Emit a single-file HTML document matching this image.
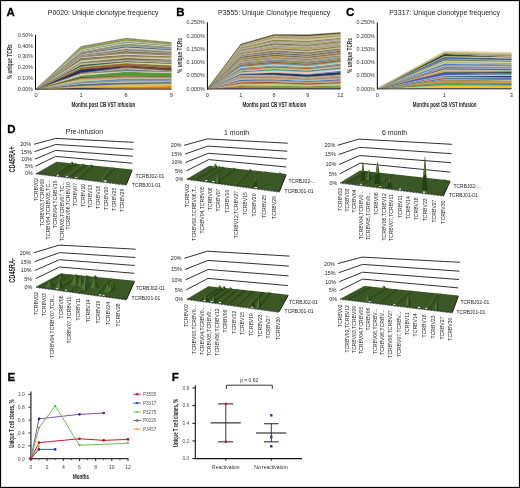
<!DOCTYPE html><html><head><meta charset="utf-8"><style>html,body{margin:0;padding:0;background:#fff;overflow:hidden}svg{display:block;will-change:transform}</style></head><body>
<svg width="520" height="488" viewBox="0 0 520 488" font-family="'Liberation Sans', sans-serif">
<defs><filter id="bl" x="-5%" y="-5%" width="110%" height="110%"><feGaussianBlur stdDeviation="0.3"/></filter></defs>
<rect x="0" y="0" width="520" height="488" fill="#fff"/>
<text x="6.6" y="16.4" font-size="11.5" text-anchor="start" font-weight="bold" fill="#000" stroke="#000" stroke-width="0.3">A</text>
<text x="176.3" y="16.3" font-size="11.5" text-anchor="start" font-weight="bold" fill="#000" stroke="#000" stroke-width="0.3">B</text>
<text x="346" y="16.3" font-size="11.5" text-anchor="start" font-weight="bold" fill="#000" stroke="#000" stroke-width="0.3">C</text>
<text x="7.2" y="132.8" font-size="11.5" text-anchor="start" font-weight="bold" fill="#000" stroke="#000" stroke-width="0.3">D</text>
<text x="7.6" y="380.5" font-size="11.5" text-anchor="start" font-weight="bold" fill="#000" stroke="#000" stroke-width="0.3">E</text>
<text x="171.8" y="380.5" font-size="11.5" text-anchor="start" font-weight="bold" fill="#000" stroke="#000" stroke-width="0.3">F</text>
<text transform="translate(47.8,14.9) scale(0.92,1)" font-size="7.6" text-anchor="start" fill="#222">P0020: Unique clonotype frequency</text>
<text transform="translate(218,14.9) scale(0.92,1)" font-size="7.6" text-anchor="start" fill="#222">P3555: Unique Clonotype frequency</text>
<text transform="translate(389.2,14.9) scale(0.92,1)" font-size="7.6" text-anchor="start" fill="#222">P3317: Unique clonotype frequency</text>
<g filter="url(#bl)">
<polygon points="36,89 81,87.75 126,88.62 171.3,88.66 171.3,89 126,89 81,89 36,89" fill="#40403d" stroke="#40403d" stroke-width="0.3"/>
<polygon points="36,89 81,87.27 126,87.1 171.3,86 171.3,88.66 126,88.62 81,87.75 36,89" fill="#e07923" stroke="#e07923" stroke-width="0.3"/>
<polygon points="36,89 81,86.5 126,85.17 171.3,84.29 171.3,86 126,87.1 81,87.27 36,89" fill="#e8bc25" stroke="#e8bc25" stroke-width="0.3"/>
<polygon points="36,89 81,85.89 126,84.24 171.3,83.58 171.3,84.29 126,85.17 81,86.5 36,89" fill="#c3bc9b" stroke="#c3bc9b" stroke-width="0.3"/>
<polygon points="36,89 81,83.78 126,82.3 171.3,81.94 171.3,83.58 126,84.24 81,85.89 36,89" fill="#5e6d78" stroke="#5e6d78" stroke-width="0.3"/>
<polygon points="36,89 81,83.14 126,81.32 171.3,81.25 171.3,81.94 126,82.3 81,83.78 36,89" fill="#d2caaa" stroke="#d2caaa" stroke-width="0.3"/>
<polygon points="36,89 81,82.34 126,80.43 171.3,80.41 171.3,81.25 126,81.32 81,83.14 36,89" fill="#8a8a87" stroke="#8a8a87" stroke-width="0.3"/>
<polygon points="36,89 81,81.53 126,78.61 171.3,78.73 171.3,80.41 126,80.43 81,82.34 36,89" fill="#5e8ab8" stroke="#5e8ab8" stroke-width="0.3"/>
<polygon points="36,89 81,79.52 126,77.7 171.3,77.91 171.3,78.73 126,78.61 81,81.53 36,89" fill="#b4ca94" stroke="#b4ca94" stroke-width="0.3"/>
<polygon points="36,89 81,77.9 126,75.8 171.3,76.66 171.3,77.91 126,77.7 81,79.52 36,89" fill="#ca8151" stroke="#ca8151" stroke-width="0.3"/>
<polygon points="36,89 81,77.07 126,75.53 171.3,76.4 171.3,76.66 126,75.8 81,77.9 36,89" fill="#40403d" stroke="#40403d" stroke-width="0.3"/>
<polygon points="36,89 81,75.42 126,71.63 171.3,72.98 171.3,76.4 126,75.53 81,77.07 36,89" fill="#4f9934" stroke="#4f9934" stroke-width="0.3"/>
<polygon points="36,89 81,73.78 126,70.9 171.3,72.11 171.3,72.98 126,71.63 81,75.42 36,89" fill="#d9d2b1" stroke="#d9d2b1" stroke-width="0.3"/>
<polygon points="36,89 81,73.36 126,69.03 171.3,71.24 171.3,72.11 126,70.9 81,73.78 36,89" fill="#6d7b87" stroke="#6d7b87" stroke-width="0.3"/>
<polygon points="36,89 81,73.13 126,68.07 171.3,70.81 171.3,71.24 126,69.03 81,73.36 36,89" fill="#bcbcaa" stroke="#bcbcaa" stroke-width="0.3"/>
<polygon points="36,89 81,72.72 126,67.12 171.3,70.37 171.3,70.81 126,68.07 81,73.13 36,89" fill="#ad6d34" stroke="#ad6d34" stroke-width="0.3"/>
<polygon points="36,89 81,69.52 126,66.18 171.3,69.66 171.3,70.37 126,67.12 81,72.72 36,89" fill="#23325a" stroke="#23325a" stroke-width="0.3"/>
<polygon points="36,89 81,69.12 126,65.44 171.3,68.02 171.3,69.66 126,66.18 81,69.52 36,89" fill="#5e3725" stroke="#5e3725" stroke-width="0.3"/>
<polygon points="36,89 81,67.48 126,63.48 171.3,67.15 171.3,68.02 126,65.44 81,69.12 36,89" fill="#9e632e" stroke="#9e632e" stroke-width="0.3"/>
<polygon points="36,89 81,67.09 126,63.01 171.3,65.34 171.3,67.15 126,63.48 81,67.48 36,89" fill="#7b6d34" stroke="#7b6d34" stroke-width="0.3"/>
<polygon points="36,89 81,66.44 126,62.04 171.3,63.66 171.3,65.34 126,63.01 81,67.09 36,89" fill="#e0d99b" stroke="#e0d99b" stroke-width="0.3"/>
<polygon points="36,89 81,64.75 126,61.1 171.3,62.97 171.3,63.66 126,62.04 81,66.44 36,89" fill="#325e4c" stroke="#325e4c" stroke-width="0.3"/>
<polygon points="36,89 81,63.13 126,60.12 171.3,62.15 171.3,62.97 126,61.1 81,64.75 36,89" fill="#cabc8c" stroke="#cabc8c" stroke-width="0.3"/>
<polygon points="36,89 81,62.89 126,59.64 171.3,60.38 171.3,62.15 126,60.12 81,63.13 36,89" fill="#8a8a87" stroke="#8a8a87" stroke-width="0.3"/>
<polygon points="36,89 81,62.08 126,57.76 171.3,59.53 171.3,60.38 126,59.64 81,62.89 36,89" fill="#7b6d5a" stroke="#7b6d5a" stroke-width="0.3"/>
<polygon points="36,89 81,60.41 126,56.82 171.3,57.85 171.3,59.53 126,57.76 81,62.08 36,89" fill="#c3d2aa" stroke="#c3d2aa" stroke-width="0.3"/>
<polygon points="36,89 81,58.8 126,54.98 171.3,56.58 171.3,57.85 126,56.82 81,60.41 36,89" fill="#998a51" stroke="#998a51" stroke-width="0.3"/>
<polygon points="36,89 81,57.98 126,54.69 171.3,56.32 171.3,56.58 126,54.98 81,58.8 36,89" fill="#4f3725" stroke="#4f3725" stroke-width="0.3"/>
<polygon points="36,89 81,57.2 126,53.79 171.3,55.45 171.3,56.32 126,54.69 81,57.98 36,89" fill="#e8e0c7" stroke="#e8e0c7" stroke-width="0.3"/>
<polygon points="36,89 81,56.78 126,52.83 171.3,54.56 171.3,55.45 126,53.79 81,57.2 36,89" fill="#8a8a87" stroke="#8a8a87" stroke-width="0.3"/>
<polygon points="36,89 81,55.95 126,50.93 171.3,53.32 171.3,54.56 126,52.83 81,56.78 36,89" fill="#8a7243" stroke="#8a7243" stroke-width="0.3"/>
<polygon points="36,89 81,55.56 126,49.97 171.3,52.48 171.3,53.32 126,50.93 81,55.95 36,89" fill="#90adc7" stroke="#90adc7" stroke-width="0.3"/>
<polygon points="36,89 81,55.16 126,49.05 171.3,51.65 171.3,52.48 126,49.97 81,55.56 36,89" fill="#7b6d5a" stroke="#7b6d5a" stroke-width="0.3"/>
<polygon points="36,89 81,54.35 126,48.15 171.3,50.81 171.3,51.65 126,49.05 81,55.16 36,89" fill="#bc9e6f" stroke="#bc9e6f" stroke-width="0.3"/>
<polygon points="36,89 81,53.95 126,47.23 171.3,50.12 171.3,50.81 126,48.15 81,54.35 36,89" fill="#d2d2ce" stroke="#d2d2ce" stroke-width="0.3"/>
<polygon points="36,89 81,53.55 126,46.3 171.3,49.28 171.3,50.12 126,47.23 81,53.95 36,89" fill="#404f5a" stroke="#404f5a" stroke-width="0.3"/>
<polygon points="36,89 81,53.13 126,45.37 171.3,48.45 171.3,49.28 126,46.3 81,53.55 36,89" fill="#8aadc7" stroke="#8aadc7" stroke-width="0.3"/>
<polygon points="36,89 81,52.3 126,44.48 171.3,47.63 171.3,48.45 126,45.37 81,53.13 36,89" fill="#9e8151" stroke="#9e8151" stroke-width="0.3"/>
<polygon points="36,89 81,51.47 126,43.58 171.3,46.74 171.3,47.63 126,44.48 81,52.3 36,89" fill="#7b8a69" stroke="#7b8a69" stroke-width="0.3"/>
<polygon points="36,89 81,50.66 126,42.67 171.3,46.02 171.3,46.74 126,43.58 81,51.47 36,89" fill="#e0d9c0" stroke="#e0d9c0" stroke-width="0.3"/>
<polygon points="36,89 81,50.26 126,41.76 171.3,45.15 171.3,46.02 126,42.67 81,50.66 36,89" fill="#5e8a87" stroke="#5e8a87" stroke-width="0.3"/>
<polygon points="36,89 81,49.45 126,40.84 171.3,44.45 171.3,45.15 126,41.76 81,50.26 36,89" fill="#d2caa2" stroke="#d2caa2" stroke-width="0.3"/>
<polygon points="36,89 81,47.87 126,39.37 171.3,43.55 171.3,44.45 126,40.84 81,49.45 36,89" fill="#8a9951" stroke="#8a9951" stroke-width="0.3"/>
<polygon points="36,89 81,46.2 126,38 171.3,42.2 171.3,43.55 126,39.37 81,47.87 36,89" fill="#8a8a60" stroke="#8a8a60" stroke-width="0.3"/>
</g>
<line x1="35.5" y1="34.8" x2="35.5" y2="89.5" stroke="#000" stroke-width="1"/>
<line x1="35" y1="89.2" x2="171.6" y2="89.2" stroke="#222" stroke-width="0.8"/>
<text x="33" y="36.7" font-size="5.4" text-anchor="end" fill="#333">0.50%</text>
<text x="33" y="47.53" font-size="5.4" text-anchor="end" fill="#333">0.40%</text>
<text x="33" y="58.36" font-size="5.4" text-anchor="end" fill="#333">0.30%</text>
<text x="33" y="69.19" font-size="5.4" text-anchor="end" fill="#333">0.20%</text>
<text x="33" y="80.02" font-size="5.4" text-anchor="end" fill="#333">0.10%</text>
<text x="33" y="90.85" font-size="5.4" text-anchor="end" fill="#333">0.00%</text>
<text x="36" y="96.7" font-size="5.6" text-anchor="middle" fill="#333">0</text>
<text x="81" y="96.7" font-size="5.6" text-anchor="middle" fill="#333">1</text>
<text x="126" y="96.7" font-size="5.6" text-anchor="middle" fill="#333">6</text>
<text x="171.3" y="96.7" font-size="5.6" text-anchor="middle" fill="#333">9</text>
<text transform="translate(103.3,106.8) scale(0.65,1)" font-size="7" text-anchor="middle" font-weight="bold" fill="#222">Months post CB VST infusion</text>
<text transform="translate(12.4,61.7) rotate(-90) scale(0.68,1)" font-size="7" text-anchor="middle" font-weight="bold" fill="#333">% unique TCRs</text>
<g filter="url(#bl)">
<polygon points="207.4,88.8 240.9,87.56 274.1,87.87 307.8,88.06 340.4,87.68 340.4,88.8 307.8,88.8 274.1,88.8 240.9,88.8 207.4,88.8" fill="#444340" stroke="#444340" stroke-width="0.3"/>
<polygon points="207.4,88.8 240.9,85.96 274.1,86.88 307.8,87.21 340.4,86.63 340.4,87.68 307.8,88.06 274.1,87.87 240.9,87.56 207.4,88.8" fill="#ae7446" stroke="#ae7446" stroke-width="0.3"/>
<polygon points="207.4,88.8 240.9,85.24 274.1,85.65 307.8,86.23 340.4,85.32 340.4,86.63 307.8,87.21 274.1,86.88 240.9,85.96 207.4,88.8" fill="#6f994f" stroke="#6f994f" stroke-width="0.3"/>
<polygon points="207.4,88.8 240.9,84.51 274.1,84.38 307.8,85.23 340.4,84.16 340.4,85.32 307.8,86.23 274.1,85.65 240.9,85.24 207.4,88.8" fill="#d9bc46" stroke="#d9bc46" stroke-width="0.3"/>
<polygon points="207.4,88.8 240.9,83.57 274.1,83.35 307.8,84.42 340.4,83.16 340.4,84.16 307.8,85.23 274.1,84.38 240.9,84.51 207.4,88.8" fill="#aeca9c" stroke="#aeca9c" stroke-width="0.3"/>
<polygon points="207.4,88.8 240.9,82.18 274.1,81.97 307.8,83.37 340.4,81.98 340.4,83.16 307.8,84.42 274.1,83.35 240.9,83.57 207.4,88.8" fill="#9f4829" stroke="#9f4829" stroke-width="0.3"/>
<polygon points="207.4,88.8 240.9,80.94 274.1,80.61 307.8,82.1 340.4,80.58 340.4,81.98 307.8,83.37 274.1,81.97 240.9,82.18 207.4,88.8" fill="#d99f71" stroke="#d99f71" stroke-width="0.3"/>
<polygon points="207.4,88.8 240.9,79.45 274.1,79.15 307.8,80.89 340.4,79.11 340.4,80.58 307.8,82.1 274.1,80.61 240.9,80.94 207.4,88.8" fill="#5274aa" stroke="#5274aa" stroke-width="0.3"/>
<polygon points="207.4,88.8 240.9,78.35 274.1,78.15 307.8,79.89 340.4,77.96 340.4,79.11 307.8,80.89 274.1,79.15 240.9,79.45 207.4,88.8" fill="#9fbcd6" stroke="#9fbcd6" stroke-width="0.3"/>
<polygon points="207.4,88.8 240.9,76.93 274.1,76.72 307.8,78.74 340.4,76.61 340.4,77.96 307.8,79.89 274.1,78.15 240.9,78.35 207.4,88.8" fill="#cb8246" stroke="#cb8246" stroke-width="0.3"/>
<polygon points="207.4,88.8 240.9,75.82 274.1,75.67 307.8,77.76 340.4,75.62 340.4,76.61 307.8,78.74 274.1,76.72 240.9,76.93 207.4,88.8" fill="#9a998e" stroke="#9a998e" stroke-width="0.3"/>
<polygon points="207.4,88.8 240.9,74.72 274.1,74.64 307.8,76.83 340.4,74.48 340.4,75.62 307.8,77.76 274.1,75.67 240.9,75.82 207.4,88.8" fill="#c3ad8e" stroke="#c3ad8e" stroke-width="0.3"/>
<polygon points="207.4,88.8 240.9,74 274.1,72.78 307.8,74.51 340.4,71.89 340.4,74.48 307.8,76.83 274.1,74.64 240.9,74.72 207.4,88.8" fill="#273554" stroke="#273554" stroke-width="0.3"/>
<polygon points="207.4,88.8 240.9,73.57 274.1,72.38 307.8,74.1 340.4,70.71 340.4,71.89 307.8,74.51 274.1,72.78 240.9,74 207.4,88.8" fill="#527dc7" stroke="#527dc7" stroke-width="0.3"/>
<polygon points="207.4,88.8 240.9,72.25 274.1,70.21 307.8,71.66 340.4,68.63 340.4,70.71 307.8,74.1 274.1,72.38 240.9,73.57 207.4,88.8" fill="#e0cab9" stroke="#e0cab9" stroke-width="0.3"/>
<polygon points="207.4,88.8 240.9,71.15 274.1,69.05 307.8,70.52 340.4,67.26 340.4,68.63 307.8,71.66 274.1,70.21 240.9,72.25 207.4,88.8" fill="#44828e" stroke="#44828e" stroke-width="0.3"/>
<polygon points="207.4,88.8 240.9,70.13 274.1,67.7 307.8,69.31 340.4,65.9 340.4,67.26 307.8,70.52 274.1,69.05 240.9,71.15 207.4,88.8" fill="#bcca8e" stroke="#bcca8e" stroke-width="0.3"/>
<polygon points="207.4,88.8 240.9,68.93 274.1,66.58 307.8,68.12 340.4,64.73 340.4,65.9 307.8,69.31 274.1,67.7 240.9,70.13 207.4,88.8" fill="#ae6e37" stroke="#ae6e37" stroke-width="0.3"/>
<polygon points="207.4,88.8 240.9,67.71 274.1,65.45 307.8,66.95 340.4,63.39 340.4,64.73 307.8,68.12 274.1,66.58 240.9,68.93 207.4,88.8" fill="#6690b9" stroke="#6690b9" stroke-width="0.3"/>
<polygon points="207.4,88.8 240.9,66.69 274.1,64.08 307.8,65.8 340.4,62.09 340.4,63.39 307.8,66.95 274.1,65.45 240.9,67.71 207.4,88.8" fill="#d9ca8e" stroke="#d9ca8e" stroke-width="0.3"/>
<polygon points="207.4,88.8 240.9,65.81 274.1,63.12 307.8,64.77 340.4,61.16 340.4,62.09 307.8,65.8 274.1,64.08 240.9,66.69 207.4,88.8" fill="#5290aa" stroke="#5290aa" stroke-width="0.3"/>
<polygon points="207.4,88.8 240.9,64.86 274.1,61.8 307.8,63.72 340.4,60 340.4,61.16 307.8,64.77 274.1,63.12 240.9,65.81 207.4,88.8" fill="#9f5729" stroke="#9f5729" stroke-width="0.3"/>
<polygon points="207.4,88.8 240.9,63.8 274.1,60.55 307.8,62.36 340.4,58.7 340.4,60 307.8,63.72 274.1,61.8 240.9,64.86 207.4,88.8" fill="#8c8b5d" stroke="#8c8b5d" stroke-width="0.3"/>
<polygon points="207.4,88.8 240.9,62.81 274.1,59.6 307.8,61.46 340.4,57.71 340.4,58.7 307.8,62.36 274.1,60.55 240.9,63.8 207.4,88.8" fill="#6082b9" stroke="#6082b9" stroke-width="0.3"/>
<polygon points="207.4,88.8 240.9,61.61 274.1,58.37 307.8,60.19 340.4,56.53 340.4,57.71 307.8,61.46 274.1,59.6 240.9,62.81 207.4,88.8" fill="#c39f62" stroke="#c39f62" stroke-width="0.3"/>
<polygon points="207.4,88.8 240.9,60.51 274.1,57.05 307.8,58.84 340.4,55.22 340.4,56.53 307.8,60.19 274.1,58.37 240.9,61.61 207.4,88.8" fill="#7d8b7a" stroke="#7d8b7a" stroke-width="0.3"/>
<polygon points="207.4,88.8 240.9,59.35 274.1,55.7 307.8,57.58 340.4,53.83 340.4,55.22 307.8,58.84 274.1,57.05 240.9,60.51 207.4,88.8" fill="#cb9f62" stroke="#cb9f62" stroke-width="0.3"/>
<polygon points="207.4,88.8 240.9,58.63 274.1,54.87 307.8,56.67 340.4,53.08 340.4,53.83 307.8,57.58 274.1,55.7 240.9,59.35 207.4,88.8" fill="#52514d" stroke="#52514d" stroke-width="0.3"/>
<polygon points="207.4,88.8 240.9,57.58 274.1,53.51 307.8,55.43 340.4,51.59 340.4,53.08 307.8,56.67 274.1,54.87 240.9,58.63 207.4,88.8" fill="#b59f71" stroke="#b59f71" stroke-width="0.3"/>
<polygon points="207.4,88.8 240.9,56.7 274.1,52.69 307.8,54.68 340.4,50.75 340.4,51.59 307.8,55.43 274.1,53.51 240.9,57.58 207.4,88.8" fill="#444340" stroke="#444340" stroke-width="0.3"/>
<polygon points="207.4,88.8 240.9,55.99 274.1,51.77 307.8,53.7 340.4,49.83 340.4,50.75 307.8,54.68 274.1,52.69 240.9,56.7 207.4,88.8" fill="#9fadb9" stroke="#9fadb9" stroke-width="0.3"/>
<polygon points="207.4,88.8 240.9,54.94 274.1,50.25 307.8,52.15 340.4,48.32 340.4,49.83 307.8,53.7 274.1,51.77 240.9,55.99 207.4,88.8" fill="#8c7446" stroke="#8c7446" stroke-width="0.3"/>
<polygon points="207.4,88.8 240.9,54.17 274.1,49.27 307.8,51.05 340.4,47.26 340.4,48.32 307.8,52.15 274.1,50.25 240.9,54.94 207.4,88.8" fill="#cbc39c" stroke="#cbc39c" stroke-width="0.3"/>
<polygon points="207.4,88.8 240.9,53.1 274.1,48 307.8,49.65 340.4,45.91 340.4,47.26 307.8,51.05 274.1,49.27 240.9,54.17 207.4,88.8" fill="#7d7d5d" stroke="#7d7d5d" stroke-width="0.3"/>
<polygon points="207.4,88.8 240.9,52.22 274.1,46.67 307.8,48.36 340.4,44.5 340.4,45.91 307.8,49.65 274.1,48 240.9,53.1 207.4,88.8" fill="#c39f62" stroke="#c39f62" stroke-width="0.3"/>
<polygon points="207.4,88.8 240.9,51.54 274.1,45.71 307.8,47.33 340.4,43.54 340.4,44.5 307.8,48.36 274.1,46.67 240.9,52.22 207.4,88.8" fill="#8c99a3" stroke="#8c99a3" stroke-width="0.3"/>
<polygon points="207.4,88.8 240.9,50.57 274.1,44.42 307.8,45.83 340.4,42.3 340.4,43.54 307.8,47.33 274.1,45.71 240.9,51.54 207.4,88.8" fill="#b5ad8e" stroke="#b5ad8e" stroke-width="0.3"/>
<polygon points="207.4,88.8 240.9,49.75 274.1,43.32 307.8,44.72 340.4,41.27 340.4,42.3 307.8,45.83 274.1,44.42 240.9,50.57 207.4,88.8" fill="#6f6e4d" stroke="#6f6e4d" stroke-width="0.3"/>
<polygon points="207.4,88.8 240.9,48.91 274.1,41.99 307.8,43.24 340.4,40.04 340.4,41.27 307.8,44.72 274.1,43.32 240.9,49.75 207.4,88.8" fill="#bca66a" stroke="#bca66a" stroke-width="0.3"/>
<polygon points="207.4,88.8 240.9,48.14 274.1,40.98 307.8,42.09 340.4,38.9 340.4,40.04 307.8,43.24 274.1,41.99 240.9,48.91 207.4,88.8" fill="#9fa6aa" stroke="#9fa6aa" stroke-width="0.3"/>
<polygon points="207.4,88.8 240.9,47.27 274.1,39.46 307.8,40.64 340.4,37.72 340.4,38.9 307.8,42.09 274.1,40.98 240.9,48.14 207.4,88.8" fill="#8c8254" stroke="#8c8254" stroke-width="0.3"/>
<polygon points="207.4,88.8 240.9,46.45 274.1,38.17 307.8,39.01 340.4,36.33 340.4,37.72 307.8,40.64 274.1,39.46 240.9,47.27 207.4,88.8" fill="#d2c38e" stroke="#d2c38e" stroke-width="0.3"/>
<polygon points="207.4,88.8 240.9,45.57 274.1,36.84 307.8,37.5 340.4,35.09 340.4,36.33 307.8,39.01 274.1,38.17 240.9,46.45 207.4,88.8" fill="#9a9971" stroke="#9a9971" stroke-width="0.3"/>
<polygon points="207.4,88.8 240.9,44.78 274.1,35.56 307.8,36.02 340.4,33.6 340.4,35.09 307.8,37.5 274.1,36.84 240.9,45.57 207.4,88.8" fill="#c3ad71" stroke="#c3ad71" stroke-width="0.3"/>
<polygon points="207.4,88.8 240.9,44 274.1,34.5 307.8,34.7 340.4,32.5 340.4,33.6 307.8,36.02 274.1,35.56 240.9,44.78 207.4,88.8" fill="#524329" stroke="#524329" stroke-width="0.3"/>
</g>
<line x1="207.4" y1="22.3" x2="207.4" y2="89.3" stroke="#000" stroke-width="1"/>
<line x1="207" y1="89" x2="340.6" y2="89" stroke="#222" stroke-width="0.8"/>
<text x="204.8" y="24.2" font-size="5.4" text-anchor="end" fill="#333">0.250%</text>
<text x="204.8" y="37.5" font-size="5.4" text-anchor="end" fill="#333">0.200%</text>
<text x="204.8" y="50.8" font-size="5.4" text-anchor="end" fill="#333">0.150%</text>
<text x="204.8" y="64.1" font-size="5.4" text-anchor="end" fill="#333">0.100%</text>
<text x="204.8" y="77.4" font-size="5.4" text-anchor="end" fill="#333">0.050%</text>
<text x="204.8" y="90.7" font-size="5.4" text-anchor="end" fill="#333">0.000%</text>
<text x="207.4" y="96.7" font-size="5.6" text-anchor="middle" fill="#333">0</text>
<text x="240.9" y="96.7" font-size="5.6" text-anchor="middle" fill="#333">1</text>
<text x="274.1" y="96.7" font-size="5.6" text-anchor="middle" fill="#333">6</text>
<text x="307.8" y="96.7" font-size="5.6" text-anchor="middle" fill="#333">9</text>
<text x="340.4" y="96.7" font-size="5.6" text-anchor="middle" fill="#333">12</text>
<text transform="translate(274.3,106.8) scale(0.65,1)" font-size="7" text-anchor="middle" font-weight="bold" fill="#222">Months post CB VST infusion</text>
<text transform="translate(181.5,55.5) rotate(-90) scale(0.68,1)" font-size="7" text-anchor="middle" font-weight="bold" fill="#333">% unique TCRs</text>
<g filter="url(#bl)">
<polygon points="377.3,88.6 444.4,87.59 511.3,87.47 511.3,88.6 444.4,88.6 377.3,88.6" fill="#3a3a4a" stroke="#3a3a4a" stroke-width="0.3"/>
<polygon points="377.3,88.6 444.4,87.08 511.3,87 511.3,87.47 444.4,87.59 377.3,88.6" fill="#e0dcc8" stroke="#e0dcc8" stroke-width="0.3"/>
<polygon points="377.3,88.6 444.4,85.53 511.3,85.89 511.3,87 444.4,87.08 377.3,88.6" fill="#f0c020" stroke="#f0c020" stroke-width="0.3"/>
<polygon points="377.3,88.6 444.4,85.27 511.3,85.24 511.3,85.89 444.4,85.53 377.3,88.6" fill="#d8c8a0" stroke="#d8c8a0" stroke-width="0.3"/>
<polygon points="377.3,88.6 444.4,83.76 511.3,85.07 511.3,85.24 444.4,85.27 377.3,88.6" fill="#5aa040" stroke="#5aa040" stroke-width="0.3"/>
<polygon points="377.3,88.6 444.4,83.51 511.3,84.06 511.3,85.07 444.4,83.76 377.3,88.6" fill="#2a7a8a" stroke="#2a7a8a" stroke-width="0.3"/>
<polygon points="377.3,88.6 444.4,82.65 511.3,83.81 511.3,84.06 444.4,83.51 377.3,88.6" fill="#8a8a8a" stroke="#8a8a8a" stroke-width="0.3"/>
<polygon points="377.3,88.6 444.4,82.23 511.3,82.65 511.3,83.81 444.4,82.65 377.3,88.6" fill="#8a7a30" stroke="#8a7a30" stroke-width="0.3"/>
<polygon points="377.3,88.6 444.4,80.79 511.3,81.47 511.3,82.65 444.4,82.23 377.3,88.6" fill="#c09a40" stroke="#c09a40" stroke-width="0.3"/>
<polygon points="377.3,88.6 444.4,79.25 511.3,80.45 511.3,81.47 444.4,80.79 377.3,88.6" fill="#a08a30" stroke="#a08a30" stroke-width="0.3"/>
<polygon points="377.3,88.6 444.4,78.99 511.3,79.4 511.3,80.45 444.4,79.25 377.3,88.6" fill="#b8d098" stroke="#b8d098" stroke-width="0.3"/>
<polygon points="377.3,88.6 444.4,78.16 511.3,79.15 511.3,79.4 444.4,78.99 377.3,88.6" fill="#2a6a8a" stroke="#2a6a8a" stroke-width="0.3"/>
<polygon points="377.3,88.6 444.4,77.92 511.3,78.12 511.3,79.15 444.4,78.16 377.3,88.6" fill="#3a6ac0" stroke="#3a6ac0" stroke-width="0.3"/>
<polygon points="377.3,88.6 444.4,76.35 511.3,77.15 511.3,78.12 444.4,77.92 377.3,88.6" fill="#e0a070" stroke="#e0a070" stroke-width="0.3"/>
<polygon points="377.3,88.6 444.4,76.1 511.3,75.84 511.3,77.15 444.4,76.35 377.3,88.6" fill="#1a2a4a" stroke="#1a2a4a" stroke-width="0.3"/>
<polygon points="377.3,88.6 444.4,75.28 511.3,75.43 511.3,75.84 444.4,76.1 377.3,88.6" fill="#a0c0e0" stroke="#a0c0e0" stroke-width="0.3"/>
<polygon points="377.3,88.6 444.4,75.01 511.3,74.27 511.3,75.43 444.4,75.28 377.3,88.6" fill="#e8c8a8" stroke="#e8c8a8" stroke-width="0.3"/>
<polygon points="377.3,88.6 444.4,72.42 511.3,74.01 511.3,74.27 444.4,75.01 377.3,88.6" fill="#3060c0" stroke="#3060c0" stroke-width="0.3"/>
<polygon points="377.3,88.6 444.4,72.18 511.3,72.91 511.3,74.01 444.4,72.42 377.3,88.6" fill="#5a7a8a" stroke="#5a7a8a" stroke-width="0.3"/>
<polygon points="377.3,88.6 444.4,71.91 511.3,71.6 511.3,72.91 444.4,72.18 377.3,88.6" fill="#3a3a3a" stroke="#3a3a3a" stroke-width="0.3"/>
<polygon points="377.3,88.6 444.4,70.45 511.3,71.34 511.3,71.6 444.4,71.91 377.3,88.6" fill="#d8a060" stroke="#d8a060" stroke-width="0.3"/>
<polygon points="377.3,88.6 444.4,70.21 511.3,70.41 511.3,71.34 444.4,70.45 377.3,88.6" fill="#c07030" stroke="#c07030" stroke-width="0.3"/>
<polygon points="377.3,88.6 444.4,69.33 511.3,70.17 511.3,70.41 444.4,70.21 377.3,88.6" fill="#f0e8a0" stroke="#f0e8a0" stroke-width="0.3"/>
<polygon points="377.3,88.6 444.4,69.08 511.3,68.99 511.3,70.17 444.4,69.33 377.3,88.6" fill="#3a7ad0" stroke="#3a7ad0" stroke-width="0.3"/>
<polygon points="377.3,88.6 444.4,68.22 511.3,68.74 511.3,68.99 444.4,69.08 377.3,88.6" fill="#4a3a30" stroke="#4a3a30" stroke-width="0.3"/>
<polygon points="377.3,88.6 444.4,67.97 511.3,67.96 511.3,68.74 444.4,68.22 377.3,88.6" fill="#a0c0e0" stroke="#a0c0e0" stroke-width="0.3"/>
<polygon points="377.3,88.6 444.4,66.49 511.3,67.7 511.3,67.96 444.4,67.97 377.3,88.6" fill="#8a8a8a" stroke="#8a8a8a" stroke-width="0.3"/>
<polygon points="377.3,88.6 444.4,66.24 511.3,66.85 511.3,67.7 444.4,66.49 377.3,88.6" fill="#b07040" stroke="#b07040" stroke-width="0.3"/>
<polygon points="377.3,88.6 444.4,65.44 511.3,66.6 511.3,66.85 444.4,66.24 377.3,88.6" fill="#b0c0d0" stroke="#b0c0d0" stroke-width="0.3"/>
<polygon points="377.3,88.6 444.4,65.2 511.3,65.79 511.3,66.6 444.4,65.44 377.3,88.6" fill="#d0b888" stroke="#d0b888" stroke-width="0.3"/>
<polygon points="377.3,88.6 444.4,63.74 511.3,65.56 511.3,65.79 444.4,65.2 377.3,88.6" fill="#4a7ad0" stroke="#4a7ad0" stroke-width="0.3"/>
<polygon points="377.3,88.6 444.4,63.5 511.3,64.36 511.3,65.56 444.4,63.74 377.3,88.6" fill="#6a80b0" stroke="#6a80b0" stroke-width="0.3"/>
<polygon points="377.3,88.6 444.4,62.01 511.3,64.12 511.3,64.36 444.4,63.5 377.3,88.6" fill="#c8d0a0" stroke="#c8d0a0" stroke-width="0.3"/>
<polygon points="377.3,88.6 444.4,61.76 511.3,62.96 511.3,64.12 444.4,62.01 377.3,88.6" fill="#a89a60" stroke="#a89a60" stroke-width="0.3"/>
<polygon points="377.3,88.6 444.4,60.91 511.3,62.71 511.3,62.96 444.4,61.76 377.3,88.6" fill="#90b8e0" stroke="#90b8e0" stroke-width="0.3"/>
<polygon points="377.3,88.6 444.4,60.66 511.3,61.46 511.3,62.71 444.4,60.91 377.3,88.6" fill="#e8e0a0" stroke="#e8e0a0" stroke-width="0.3"/>
<polygon points="377.3,88.6 444.4,59.84 511.3,61.2 511.3,61.46 444.4,60.66 377.3,88.6" fill="#8a9a30" stroke="#8a9a30" stroke-width="0.3"/>
<polygon points="377.3,88.6 444.4,59 511.3,60.97 511.3,61.2 444.4,59.84 377.3,88.6" fill="#3a5a2a" stroke="#3a5a2a" stroke-width="0.3"/>
<polygon points="377.3,88.6 444.4,58.75 511.3,59.88 511.3,60.97 444.4,59 377.3,88.6" fill="#b0c0d0" stroke="#b0c0d0" stroke-width="0.3"/>
<polygon points="377.3,88.6 444.4,57.22 511.3,59.64 511.3,59.88 444.4,58.75 377.3,88.6" fill="#3a6ac0" stroke="#3a6ac0" stroke-width="0.3"/>
<polygon points="377.3,88.6 444.4,56.97 511.3,58.4 511.3,59.64 444.4,57.22 377.3,88.6" fill="#2a3a5a" stroke="#2a3a5a" stroke-width="0.3"/>
<polygon points="377.3,88.6 444.4,56.12 511.3,58.15 511.3,58.4 444.4,56.97 377.3,88.6" fill="#c8b080" stroke="#c8b080" stroke-width="0.3"/>
<polygon points="377.3,88.6 444.4,55.88 511.3,57.32 511.3,58.15 444.4,56.12 377.3,88.6" fill="#e0d8c0" stroke="#e0d8c0" stroke-width="0.3"/>
<polygon points="377.3,88.6 444.4,53.76 511.3,56.91 511.3,57.32 444.4,55.88 377.3,88.6" fill="#2a4a1a" stroke="#2a4a1a" stroke-width="0.3"/>
<polygon points="377.3,88.6 444.4,53.52 511.3,56.1 511.3,56.91 444.4,53.76 377.3,88.6" fill="#d0b080" stroke="#d0b080" stroke-width="0.3"/>
<polygon points="377.3,88.6 444.4,53.27 511.3,55.28 511.3,56.1 444.4,53.52 377.3,88.6" fill="#7a7a3a" stroke="#7a7a3a" stroke-width="0.3"/>
<polygon points="377.3,88.6 444.4,52.44 511.3,55.03 511.3,55.28 444.4,53.27 377.3,88.6" fill="#90b8e0" stroke="#90b8e0" stroke-width="0.3"/>
<polygon points="377.3,88.6 444.4,52.19 511.3,54.19 511.3,55.03 444.4,52.44 377.3,88.6" fill="#c09060" stroke="#c09060" stroke-width="0.3"/>
<polygon points="377.3,88.6 444.4,51.95 511.3,53.35 511.3,54.19 444.4,52.19 377.3,88.6" fill="#b0c0d0" stroke="#b0c0d0" stroke-width="0.3"/>
<polygon points="377.3,88.6 444.4,51.7 511.3,52.54 511.3,53.35 444.4,51.95 377.3,88.6" fill="#e0c040" stroke="#e0c040" stroke-width="0.3"/>
<polygon points="377.3,88.6 444.4,50.9 511.3,52.3 511.3,52.54 444.4,51.7 377.3,88.6" fill="#e8d8a8" stroke="#e8d8a8" stroke-width="0.3"/>
</g>
<line x1="377.3" y1="22.3" x2="377.3" y2="89.1" stroke="#000" stroke-width="1"/>
<line x1="377" y1="88.9" x2="511.5" y2="88.9" stroke="#222" stroke-width="0.8"/>
<text x="374.8" y="24.2" font-size="5.4" text-anchor="end" fill="#333">0.250%</text>
<text x="374.8" y="37.5" font-size="5.4" text-anchor="end" fill="#333">0.200%</text>
<text x="374.8" y="50.8" font-size="5.4" text-anchor="end" fill="#333">0.150%</text>
<text x="374.8" y="64.1" font-size="5.4" text-anchor="end" fill="#333">0.100%</text>
<text x="374.8" y="77.4" font-size="5.4" text-anchor="end" fill="#333">0.050%</text>
<text x="374.8" y="90.7" font-size="5.4" text-anchor="end" fill="#333">0.000%</text>
<text x="377.3" y="96.7" font-size="5.6" text-anchor="middle" fill="#333">0</text>
<text x="444.4" y="96.7" font-size="5.6" text-anchor="middle" fill="#333">1</text>
<text x="511.3" y="96.7" font-size="5.6" text-anchor="middle" fill="#333">3</text>
<text transform="translate(444.7,106.8) scale(0.65,1)" font-size="7" text-anchor="middle" font-weight="bold" fill="#222">Months post CB VST infusion</text>
<text transform="translate(351.5,55.5) rotate(-90) scale(0.68,1)" font-size="7" text-anchor="middle" font-weight="bold" fill="#333">% unique TCRs</text>
<text transform="translate(65.8,134.1) scale(0.92,1)" font-size="7.6" text-anchor="start" fill="#222">Pre-infusion</text>
<text transform="translate(224,134.6) scale(0.92,1)" font-size="7.6" text-anchor="start" fill="#222">1 month</text>
<text transform="translate(382,134.6) scale(0.92,1)" font-size="7.6" text-anchor="start" fill="#222">6 month</text>
<text transform="translate(14.8,159.5) rotate(-90) scale(0.64,1)" font-size="8.9" text-anchor="middle" font-weight="bold" fill="#2a2a2a">CD45RA+</text>
<text transform="translate(15.4,270.4) rotate(-90) scale(0.64,1)" font-size="8.9" text-anchor="middle" font-weight="bold" fill="#2a2a2a">CD45RA-</text>
<polyline points="33.9,144.3 55.7,138.4 133.6,142.3" fill="none" stroke="#1a1a1a" stroke-width="0.9"/>
<polyline points="34.4,151.7 55.7,144.5 133.3,149.3" fill="none" stroke="#1a1a1a" stroke-width="0.9"/>
<polyline points="35,159.1 55.7,150.4 132.8,156.2" fill="none" stroke="#1a1a1a" stroke-width="0.9"/>
<polyline points="35.5,166.2 55.7,156.4 132.3,163.2" fill="none" stroke="#1a1a1a" stroke-width="0.9"/>
<text x="31" y="146.2" font-size="5.4" text-anchor="end" fill="#222">20%</text>
<text x="31.8" y="153.6" font-size="5.4" text-anchor="end" fill="#222">15%</text>
<text x="32.1" y="161" font-size="5.4" text-anchor="end" fill="#222">10%</text>
<text x="32.8" y="168.1" font-size="5.4" text-anchor="end" fill="#222">5%</text>
<text x="32.8" y="175.3" font-size="5.4" text-anchor="end" fill="#222">0%</text>
<polygon points="36,173.4 56.5,161.8 132.1,169.6 126.3,184.6" fill="#3a5825"/>
<polygon points="69,164.3 72,162.9 54.51,174.5 51.51,175.2" fill="#5a8040" opacity="0.4"/>
<polygon points="72,162.9 75,164.3 57.51,175.2 54.51,174.5" fill="#22380f" opacity="0.4"/>
<polygon points="74,164.71 76,163.31 59.29,175.09 57.29,175.79" fill="#5a8040" opacity="0.35"/>
<polygon points="76,163.31 78,164.71 61.29,175.79 59.29,175.09" fill="#22380f" opacity="0.35"/>
<polygon points="81,165.54 84,164.14 68.85,176.27 65.85,176.97" fill="#5a8040" opacity="0.4"/>
<polygon points="84,164.14 87,165.54 71.85,176.97 68.85,176.27" fill="#22380f" opacity="0.4"/>
<polygon points="89.5,166.36 92,164.96 78.4,177.46 75.9,178.16" fill="#5a8040" opacity="0.35"/>
<polygon points="92,164.96 94.5,166.36 80.9,178.16 78.4,177.46" fill="#22380f" opacity="0.35"/>
<polygon points="109,168.43 112,167.03 102.29,180.42 99.29,181.12" fill="#5a8040" opacity="0.35"/>
<polygon points="112,167.03 115,168.43 105.29,181.12 102.29,180.42" fill="#22380f" opacity="0.35"/>
<polygon points="58,164 60,162.2 60.3,164" fill="#557a38"/>
<polygon points="60.2,164 60,162.2 62,164" fill="#263f15"/>
<polygon points="69.5,164.5 72,161.3 72.38,164.5" fill="#557a38"/>
<polygon points="72.25,164.5 72,161.3 74.5,164.5" fill="#263f15"/>
<polygon points="73.5,165 75.2,162.5 75.55,165" fill="#557a38"/>
<polygon points="75.43,165 75.2,162.5 77.5,165" fill="#263f15"/>
<polygon points="80.5,166 82.7,163.5 83.05,166" fill="#557a38"/>
<polygon points="82.93,166 82.7,163.5 85,166" fill="#263f15"/>
<polygon points="88.5,166.5 90.9,164.3 91.29,166.5" fill="#557a38"/>
<polygon points="91.16,166.5 90.9,164.3 93.5,166.5" fill="#263f15"/>
<polygon points="110,169.5 113,167.8 113.45,169.5" fill="#557a38"/>
<polygon points="113.3,169.5 113,167.8 116,169.5" fill="#263f15"/>
<ellipse cx="57.7" cy="175.39" rx="1.3" ry="0.78" fill="#fff"/>
<ellipse cx="66.8" cy="176.52" rx="1.3" ry="0.78" fill="#fff"/>
<ellipse cx="76" cy="177.66" rx="1.3" ry="0.78" fill="#fff"/>
<ellipse cx="105" cy="181.26" rx="1.8" ry="1.08" fill="#fff"/>
<polyline points="126.3,184.6 132.1,170.2" fill="none" stroke="#111" stroke-width="1"/>
<polyline points="36,173.4 126.3,184.6" fill="none" stroke="#1a2a10" stroke-width="0.7"/>
<polyline points="36,174 126.3,185.2" fill="none" stroke="#222" stroke-width="1" stroke-dasharray="0.7,0.8"/>
<text transform="translate(37.8,178.1) rotate(-90)" font-size="5.1" text-anchor="end" fill="#222">TCRBV02</text>
<text transform="translate(44,178.87) rotate(-90)" font-size="5.1" text-anchor="end" fill="#222">TCRBV03,TCRBV09</text>
<text transform="translate(50.35,179.66) rotate(-90)" font-size="5.1" text-anchor="end" fill="#222">TCRBV04,TCRBV05,TC...</text>
<text transform="translate(56.86,180.46) rotate(-90)" font-size="5.1" text-anchor="end" fill="#222">TCRBV04,TCRBV19</text>
<text transform="translate(63.54,181.29) rotate(-90)" font-size="5.1" text-anchor="end" fill="#222">TCRBV05,TCRBV07,TC...</text>
<text transform="translate(70.4,182.14) rotate(-90)" font-size="5.1" text-anchor="end" fill="#222">TCRBV06,TCRBV10</text>
<text transform="translate(77.43,183.02) rotate(-90)" font-size="5.1" text-anchor="end" fill="#222">TCRBV07</text>
<text transform="translate(84.66,183.91) rotate(-90)" font-size="5.1" text-anchor="end" fill="#222">TCRBV10</text>
<text transform="translate(92.07,184.83) rotate(-90)" font-size="5.1" text-anchor="end" fill="#222">TCRBV13</text>
<text transform="translate(99.7,185.78) rotate(-90)" font-size="5.1" text-anchor="end" fill="#222">TCRBV16</text>
<text transform="translate(107.53,186.75) rotate(-90)" font-size="5.1" text-anchor="end" fill="#222">TCRBV20</text>
<text transform="translate(115.58,187.75) rotate(-90)" font-size="5.1" text-anchor="end" fill="#222">TCRBV25</text>
<text transform="translate(123.87,188.78) rotate(-90)" font-size="5.1" text-anchor="end" fill="#222">TCRBV29</text>
<text x="135.4" y="177.5" font-size="5" text-anchor="start" fill="#222">TCRBJ02-01</text>
<text x="132" y="186.5" font-size="5" text-anchor="start" fill="#222">TCRBJ01-01</text>
<polyline points="184.2,145.3 207.3,138.9 287.7,143.2" fill="none" stroke="#1a1a1a" stroke-width="0.9"/>
<polyline points="185.2,154 207.8,146.1 287.3,151.2" fill="none" stroke="#1a1a1a" stroke-width="0.9"/>
<polyline points="185.4,162.5 208.3,153.3 286.8,159" fill="none" stroke="#1a1a1a" stroke-width="0.9"/>
<polyline points="186.3,170.9 208.8,159.6 286.3,167" fill="none" stroke="#1a1a1a" stroke-width="0.9"/>
<text x="181.6" y="147.2" font-size="5.4" text-anchor="end" fill="#222">20%</text>
<text x="182" y="155.9" font-size="5.4" text-anchor="end" fill="#222">15%</text>
<text x="182.4" y="164.4" font-size="5.4" text-anchor="end" fill="#222">10%</text>
<text x="182.9" y="172.8" font-size="5.4" text-anchor="end" fill="#222">5%</text>
<text x="183.4" y="180.8" font-size="5.4" text-anchor="end" fill="#222">0%</text>
<polygon points="186.8,178.9 209.3,165.7 286.2,174 279.4,191.6" fill="#3a5825"/>
<polygon points="213,167.32 216,165.92 194.87,178.81 191.87,179.51" fill="#5a8040" opacity="0.4"/>
<polygon points="216,165.92 219,167.32 197.87,179.51 194.87,178.81" fill="#22380f" opacity="0.4"/>
<polygon points="220.5,168.08 223,166.68 203.3,179.96 200.8,180.66" fill="#5a8040" opacity="0.35"/>
<polygon points="223,166.68 225.5,168.08 205.8,180.66 203.3,179.96" fill="#22380f" opacity="0.35"/>
<polygon points="231,169.27 234,167.87 216.54,181.78 213.54,182.48" fill="#5a8040" opacity="0.35"/>
<polygon points="234,167.87 237,169.27 219.54,182.48 216.54,181.78" fill="#22380f" opacity="0.35"/>
<polygon points="247.5,170.99 250,169.59 235.81,184.42 233.31,185.12" fill="#5a8040" opacity="0.3"/>
<polygon points="250,169.59 252.5,170.99 238.31,185.12 235.81,184.42" fill="#22380f" opacity="0.3"/>
<polygon points="213,168 215.3,163.1 215.71,168" fill="#557a38"/>
<polygon points="215.57,168 215.3,163.1 218,168" fill="#263f15"/>
<polygon points="217.5,168 219.3,165.5 219.63,168" fill="#557a38"/>
<polygon points="219.52,168 219.3,165.5 221.5,168" fill="#263f15"/>
<polygon points="220.5,168.5 222.4,166 222.72,168.5" fill="#557a38"/>
<polygon points="222.61,168.5 222.4,166 224.5,168.5" fill="#263f15"/>
<polygon points="225.5,169 227.4,168 227.72,169" fill="#557a38"/>
<polygon points="227.61,169 227.4,168 229.5,169" fill="#263f15"/>
<polygon points="231.5,169.5 233.5,167.5 233.8,169.5" fill="#557a38"/>
<polygon points="233.7,169.5 233.5,167.5 235.5,169.5" fill="#263f15"/>
<polygon points="248,171 250,168.7 250.3,171" fill="#557a38"/>
<polygon points="250.2,171 250,168.7 252,171" fill="#263f15"/>
<polygon points="262.5,173 265,171.3 265.38,173" fill="#557a38"/>
<polygon points="265.25,173 265,171.3 267.5,173" fill="#263f15"/>
<polygon points="277.5,174 279.7,172.2 280.05,174" fill="#557a38"/>
<polygon points="279.93,174 279.7,172.2 282,174" fill="#263f15"/>
<polygon points="215.5,183.5 218.3,171.2 218.71,183.5" fill="#557a38"/>
<polygon points="218.57,183.5 218.3,171.2 221,183.5" fill="#263f15"/>
<polygon points="253.5,187.5 255.3,174.2 257.5,187.5" fill="#263f15"/>
<polygon points="254.31,181.51 255.3,174.2 255.78,181.51" fill="#557a38"/>
<ellipse cx="206.2" cy="180.86" rx="1.3" ry="0.78" fill="#fff"/>
<ellipse cx="213.3" cy="181.83" rx="1.3" ry="0.78" fill="#fff"/>
<ellipse cx="255.7" cy="187.65" rx="1.5" ry="0.9" fill="#fff"/>
<polyline points="279.4,191.6 286.2,174.6" fill="none" stroke="#111" stroke-width="1"/>
<polyline points="186.8,178.9 279.4,191.6" fill="none" stroke="#1a2a10" stroke-width="0.7"/>
<polyline points="186.8,179.5 279.4,192.2" fill="none" stroke="#222" stroke-width="1" stroke-dasharray="0.7,0.8"/>
<text transform="translate(188.6,184.2) rotate(-90)" font-size="5.1" text-anchor="end" fill="#222">TCRBV02</text>
<text transform="translate(196.18,185.24) rotate(-90)" font-size="5.1" text-anchor="end" fill="#222">TCRBV02,TCRBV06,T...</text>
<text transform="translate(203.99,186.31) rotate(-90)" font-size="5.1" text-anchor="end" fill="#222">TCRBV04,TCRBV05</text>
<text transform="translate(212.04,187.42) rotate(-90)" font-size="5.1" text-anchor="end" fill="#222">TCRBV06</text>
<text transform="translate(220.34,188.55) rotate(-90)" font-size="5.1" text-anchor="end" fill="#222">TCRBV07</text>
<text transform="translate(228.9,189.73) rotate(-90)" font-size="5.1" text-anchor="end" fill="#222">TCRBV10</text>
<text transform="translate(237.72,190.94) rotate(-90)" font-size="5.1" text-anchor="end" fill="#222">TCRBV12,TCRBV27</text>
<text transform="translate(246.84,192.19) rotate(-90)" font-size="5.1" text-anchor="end" fill="#222">TCRBV15</text>
<text transform="translate(256.25,193.48) rotate(-90)" font-size="5.1" text-anchor="end" fill="#222">TCRBV20</text>
<text transform="translate(265.98,194.81) rotate(-90)" font-size="5.1" text-anchor="end" fill="#222">TCRBV25</text>
<text transform="translate(276.04,196.19) rotate(-90)" font-size="5.1" text-anchor="end" fill="#222">TCRBV29</text>
<text x="288.5" y="182.7" font-size="5" text-anchor="start" fill="#222">TCRBJ02-...</text>
<text x="284.6" y="192.5" font-size="5" text-anchor="start" fill="#222">TCRBJ01-01</text>
<polyline points="337.7,145.3 358.8,139.1 452,144.3" fill="none" stroke="#1a1a1a" stroke-width="0.9"/>
<polyline points="338.8,154.5 359.8,147.3 451.6,153.7" fill="none" stroke="#1a1a1a" stroke-width="0.9"/>
<polyline points="339.1,164.5 359.8,155.5 451.1,162.7" fill="none" stroke="#1a1a1a" stroke-width="0.9"/>
<polyline points="339.8,173.8 360,163.2 450.3,172.1" fill="none" stroke="#1a1a1a" stroke-width="0.9"/>
<text x="335.2" y="147.2" font-size="5.4" text-anchor="end" fill="#222">20%</text>
<text x="335.7" y="156.4" font-size="5.4" text-anchor="end" fill="#222">15%</text>
<text x="336.2" y="166.4" font-size="5.4" text-anchor="end" fill="#222">10%</text>
<text x="336.9" y="175.7" font-size="5.4" text-anchor="end" fill="#222">5%</text>
<text x="337.4" y="184.5" font-size="5.4" text-anchor="end" fill="#222">0%</text>
<polygon points="340.3,182.6 360,170.5 450.2,180.6 443.5,195.5" fill="#3a5825"/>
<polygon points="361,171.96 365,170.56 346.02,182.12 342.02,182.82" fill="#5a8040" opacity="0.4"/>
<polygon points="365,170.56 369,171.96 350.02,182.82 346.02,182.12" fill="#22380f" opacity="0.4"/>
<polygon points="375,173.42 378,172.02 360.89,183.97 357.89,184.67" fill="#5a8040" opacity="0.35"/>
<polygon points="378,172.02 381,173.42 363.89,184.67 360.89,183.97" fill="#22380f" opacity="0.35"/>
<polygon points="389,174.98 392,173.58 376.91,185.98 373.91,186.68" fill="#5a8040" opacity="0.3"/>
<polygon points="392,173.58 395,174.98 379.91,186.68 376.91,185.98" fill="#22380f" opacity="0.3"/>
<polygon points="366.5,180 369,168.5 369.38,180" fill="#557a38"/>
<polygon points="369.25,180 369,168.5 371.5,180" fill="#263f15"/>
<polygon points="442,180.5 444.3,179.2 444.7,180.5" fill="#557a38"/>
<polygon points="444.57,180.5 444.3,179.2 447,180.5" fill="#263f15"/>
<polygon points="360.6,181 362.9,161.2 365.4,181" fill="#263f15"/>
<polygon points="361.63,172.09 362.9,161.2 363.45,172.09" fill="#557a38"/>
<circle cx="362.9" cy="162.2" r="0.8" fill="#f0c8b8"/>
<polygon points="374,184 377.6,160.4 381,184" fill="#263f15"/>
<polygon points="375.62,173.38 377.6,160.4 378.35,173.38" fill="#557a38"/>
<circle cx="377.6" cy="161.4" r="0.8" fill="#e8e8c8"/>
<polygon points="387,188 389.6,175.4 392.5,188" fill="#263f15"/>
<polygon points="388.17,182.33 389.6,175.4 390.24,182.33" fill="#557a38"/>
<polygon points="422,190 425,156.2 427.5,190" fill="#263f15"/>
<polygon points="423.35,174.79 425,156.2 425.55,174.79" fill="#557a38"/>
<circle cx="425" cy="157.2" r="0.8" fill="#f0b8a8"/>
<ellipse cx="361" cy="184.49" rx="1.2" ry="0.72" fill="#fff"/>
<ellipse cx="380" cy="186.86" rx="1" ry="0.6" fill="#fff"/>
<ellipse cx="400" cy="189.36" rx="1.3" ry="0.78" fill="#fff"/>
<ellipse cx="424" cy="192.36" rx="1.6" ry="0.96" fill="#fff"/>
<polyline points="443.5,195.5 450.2,181.2" fill="none" stroke="#111" stroke-width="1"/>
<polyline points="340.3,182.6 443.5,195.5" fill="none" stroke="#1a2a10" stroke-width="0.7"/>
<polyline points="340.3,183.2 443.5,196.1" fill="none" stroke="#222" stroke-width="1" stroke-dasharray="0.7,0.8"/>
<text transform="translate(342.1,187.8) rotate(-90)" font-size="5.1" text-anchor="end" fill="#222">TCRBV02</text>
<text transform="translate(348.91,188.65) rotate(-90)" font-size="5.1" text-anchor="end" fill="#222">TCRBV03</text>
<text transform="translate(355.88,189.52) rotate(-90)" font-size="5.1" text-anchor="end" fill="#222">TCRBV04</text>
<text transform="translate(363.02,190.41) rotate(-90)" font-size="5.1" text-anchor="end" fill="#222">TCRBV04,TCRBV0...</text>
<text transform="translate(370.34,191.33) rotate(-90)" font-size="5.1" text-anchor="end" fill="#222">TCRBV05,TCRBV0...</text>
<text transform="translate(377.83,192.27) rotate(-90)" font-size="5.1" text-anchor="end" fill="#222">TCRBV06</text>
<text transform="translate(385.52,193.23) rotate(-90)" font-size="5.1" text-anchor="end" fill="#222">TCRBV06,TCRBV12</text>
<text transform="translate(393.41,194.21) rotate(-90)" font-size="5.1" text-anchor="end" fill="#222">TCRBV07,TCRBV11</text>
<text transform="translate(401.5,195.22) rotate(-90)" font-size="5.1" text-anchor="end" fill="#222">TCRBV11</text>
<text transform="translate(409.8,196.26) rotate(-90)" font-size="5.1" text-anchor="end" fill="#222">TCRBV14</text>
<text transform="translate(418.32,197.33) rotate(-90)" font-size="5.1" text-anchor="end" fill="#222">TCRBV18</text>
<text transform="translate(427.07,198.42) rotate(-90)" font-size="5.1" text-anchor="end" fill="#222">TCRBV23</text>
<text transform="translate(436.06,199.55) rotate(-90)" font-size="5.1" text-anchor="end" fill="#222">TCRBV27</text>
<text transform="translate(445.3,200.7) rotate(-90)" font-size="5.1" text-anchor="end" fill="#222">TCRBV30</text>
<text x="453.4" y="188.4" font-size="5" text-anchor="start" fill="#222">TCRBJ02-...</text>
<text x="449" y="197.3" font-size="5" text-anchor="start" fill="#222">TCRBJ01-01</text>
<polyline points="33.8,252.8 59.2,245.1 135.7,249.2" fill="none" stroke="#1a1a1a" stroke-width="0.9"/>
<polyline points="34.5,261.7 59.5,252.6 135.3,257.5" fill="none" stroke="#1a1a1a" stroke-width="0.9"/>
<polyline points="35,270.4 59.5,259.7 134.8,265.5" fill="none" stroke="#1a1a1a" stroke-width="0.9"/>
<polyline points="35.7,278.6 59.5,267 134.2,273.3" fill="none" stroke="#1a1a1a" stroke-width="0.9"/>
<text x="30.6" y="254.7" font-size="5.4" text-anchor="end" fill="#222">20%</text>
<text x="31.2" y="263.6" font-size="5.4" text-anchor="end" fill="#222">15%</text>
<text x="31.6" y="272.3" font-size="5.4" text-anchor="end" fill="#222">10%</text>
<text x="32" y="280.5" font-size="5.4" text-anchor="end" fill="#222">5%</text>
<text x="32.3" y="288.8" font-size="5.4" text-anchor="end" fill="#222">0%</text>
<polygon points="36.3,286.9 60.8,273.5 134.5,280.8 126.5,299.4" fill="#3a5825"/>
<polygon points="59,274.52 62,273.12 37.77,285.9 34.77,286.6" fill="#5a8040" opacity="0.4"/>
<polygon points="62,273.12 65,274.52 40.77,286.6 37.77,285.9" fill="#22380f" opacity="0.4"/>
<polygon points="67.5,275.31 70,273.91 47.56,287.26 45.06,287.96" fill="#5a8040" opacity="0.3"/>
<polygon points="70,273.91 72.5,275.31 50.06,287.96 47.56,287.26" fill="#22380f" opacity="0.3"/>
<polygon points="75,276.1 78,274.7 57.35,288.62 54.35,289.32" fill="#5a8040" opacity="0.4"/>
<polygon points="78,274.7 81,276.1 60.35,289.32 57.35,288.62" fill="#22380f" opacity="0.4"/>
<polygon points="85,277.09 88,275.69 69.59,290.31 66.59,291.01" fill="#5a8040" opacity="0.35"/>
<polygon points="88,275.69 91,277.09 72.59,291.01 69.59,290.31" fill="#22380f" opacity="0.35"/>
<polygon points="93,277.89 96,276.49 79.38,291.67 76.38,292.37" fill="#5a8040" opacity="0.35"/>
<polygon points="96,276.49 99,277.89 82.38,292.37 79.38,291.67" fill="#22380f" opacity="0.35"/>
<polygon points="107,279.27 110,277.87 96.51,294.04 93.51,294.74" fill="#5a8040" opacity="0.3"/>
<polygon points="110,277.87 113,279.27 99.51,294.74 96.51,294.04" fill="#22380f" opacity="0.3"/>
<polygon points="46.5,282 48.5,279.8 48.88,282" fill="#557a38"/>
<polygon points="48.75,282 48.5,279.8 51,282" fill="#263f15"/>
<polygon points="59,278 61,275 61.3,278" fill="#557a38"/>
<polygon points="61.2,278 61,275 63,278" fill="#263f15"/>
<polygon points="74,276.5 76,274 76.38,276.5" fill="#557a38"/>
<polygon points="76.25,276.5 76,274 78.5,276.5" fill="#263f15"/>
<polygon points="79.5,277 81.2,275 81.55,277" fill="#557a38"/>
<polygon points="81.43,277 81.2,275 83.5,277" fill="#263f15"/>
<polygon points="85,277.5 87,275 87.38,277.5" fill="#557a38"/>
<polygon points="87.25,277.5 87,275 89.5,277.5" fill="#263f15"/>
<polygon points="93,277.5 95,275 95.38,277.5" fill="#557a38"/>
<polygon points="95.25,277.5 95,275 97.5,277.5" fill="#263f15"/>
<polygon points="109,280 111.7,278.4 112.05,280" fill="#557a38"/>
<polygon points="111.93,280 111.7,278.4 114,280" fill="#263f15"/>
<polygon points="45,287 50.1,280.2 51.18,287.5" fill="#4d7033"/>
<polygon points="50.91,287.5 50.1,280.2 55.5,287" fill="#2e491c"/>
<polygon points="55,289 59.6,278.5 60.58,289.5" fill="#4d7033"/>
<polygon points="60.34,289.5 59.6,278.5 64.5,289" fill="#2e491c"/>
<polygon points="70.5,285 75.5,274.2 76.5,285.5" fill="#4d7033"/>
<polygon points="76.25,285.5 75.5,274.2 80.5,285" fill="#2e491c"/>
<polygon points="77,286 80.8,276 81.64,286.5" fill="#4d7033"/>
<polygon points="81.43,286.5 80.8,276 85,286" fill="#2e491c"/>
<polygon points="81,288 86,275 87,288.5" fill="#4d7033"/>
<polygon points="86.75,288.5 86,275 91,288" fill="#2e491c"/>
<polygon points="90,288 94.5,276 95.5,288.5" fill="#4d7033"/>
<polygon points="95.25,288.5 94.5,276 99.5,288" fill="#2e491c"/>
<polygon points="104,292 108.3,282.3 109.24,292.5" fill="#4d7033"/>
<polygon points="109,292.5 108.3,282.3 113,292" fill="#2e491c"/>
<polygon points="109,290 112.5,280.2 113.3,290.5" fill="#4d7033"/>
<polygon points="113.1,290.5 112.5,280.2 116.5,290" fill="#2e491c"/>
<polygon points="57,288 59.6,278 59.96,288" fill="#557a38"/>
<polygon points="59.84,288 59.6,278 62,288" fill="#263f15"/>
<polygon points="108,291 111,283 111.38,291" fill="#557a38"/>
<polygon points="111.25,291 111,283 113.5,291" fill="#263f15"/>
<polygon points="82.5,290 85,280 85.38,290" fill="#557a38"/>
<polygon points="85.25,290 85,280 87.5,290" fill="#263f15"/>
<ellipse cx="57" cy="289.07" rx="1.3" ry="0.78" fill="#fff"/>
<ellipse cx="66" cy="290.32" rx="1.2" ry="0.72" fill="#fff"/>
<ellipse cx="100" cy="295.03" rx="1.5" ry="0.9" fill="#fff"/>
<ellipse cx="103.5" cy="295.51" rx="1.2" ry="0.72" fill="#fff"/>
<polyline points="126.5,299.4 134.5,281.4" fill="none" stroke="#111" stroke-width="1"/>
<polyline points="36.3,286.9 126.5,299.4" fill="none" stroke="#1a2a10" stroke-width="0.7"/>
<polyline points="36.3,287.5 126.5,300" fill="none" stroke="#222" stroke-width="1" stroke-dasharray="0.7,0.8"/>
<text transform="translate(37.8,292.06) rotate(-90)" font-size="5.1" text-anchor="end" fill="#222">TCRBV02</text>
<text transform="translate(45.7,293.15) rotate(-90)" font-size="5.1" text-anchor="end" fill="#222">TCRBV03</text>
<text transform="translate(54.1,294.32) rotate(-90)" font-size="5.1" text-anchor="end" fill="#222">TCRBV04,TCRBV07,TCR...</text>
<text transform="translate(62.6,295.5) rotate(-90)" font-size="5.1" text-anchor="end" fill="#222">TCRBV06</text>
<text transform="translate(71.2,296.69) rotate(-90)" font-size="5.1" text-anchor="end" fill="#222">TCRBV07,TCRBV11</text>
<text transform="translate(80.3,297.95) rotate(-90)" font-size="5.1" text-anchor="end" fill="#222">TCRBV11</text>
<text transform="translate(90.1,299.31) rotate(-90)" font-size="5.1" text-anchor="end" fill="#222">TCRBV14</text>
<text transform="translate(99.6,300.62) rotate(-90)" font-size="5.1" text-anchor="end" fill="#222">TCRBV19</text>
<text transform="translate(109.5,301.99) rotate(-90)" font-size="5.1" text-anchor="end" fill="#222">TCRBV24</text>
<text transform="translate(119.9,303.44) rotate(-90)" font-size="5.1" text-anchor="end" fill="#222">TCRBV28</text>
<text x="135.8" y="289.7" font-size="5" text-anchor="start" fill="#222">TCRBJ02-01</text>
<text x="131.5" y="300" font-size="5" text-anchor="start" fill="#222">TCRBJ01-01</text>
<polyline points="184.3,258.3 207.5,251.2 289.4,256.1" fill="none" stroke="#1a1a1a" stroke-width="0.9"/>
<polyline points="185.1,269.5 207.9,260.4 288.9,266.1" fill="none" stroke="#1a1a1a" stroke-width="0.9"/>
<polyline points="185.5,279.9 208,269.5 288.5,275.9" fill="none" stroke="#1a1a1a" stroke-width="0.9"/>
<polyline points="186.1,289.9 208,278.4 287.9,285.6" fill="none" stroke="#1a1a1a" stroke-width="0.9"/>
<text x="181.5" y="260.2" font-size="5.4" text-anchor="end" fill="#222">20%</text>
<text x="181.9" y="271.4" font-size="5.4" text-anchor="end" fill="#222">15%</text>
<text x="182.2" y="281.8" font-size="5.4" text-anchor="end" fill="#222">10%</text>
<text x="182.6" y="291.8" font-size="5.4" text-anchor="end" fill="#222">5%</text>
<text x="183" y="300.9" font-size="5.4" text-anchor="end" fill="#222">0%</text>
<polygon points="186.9,299 208.4,286.2 288.2,294.8 279,311.8" fill="#3a5825"/>
<polygon points="217.5,288.32 219.7,286.92 199.94,299.61 197.74,300.31" fill="#5a8040" opacity="0.6"/>
<polygon points="219.7,286.92 221.9,288.32 202.14,300.31 199.94,299.61" fill="#22380f" opacity="0.6"/>
<polygon points="221.8,288.78 224,287.38 204.9,300.3 202.7,301" fill="#5a8040" opacity="0.55"/>
<polygon points="224,287.38 226.2,288.78 207.1,301 204.9,300.3" fill="#22380f" opacity="0.55"/>
<polygon points="228,289.45 230.2,288.05 212.06,301.3 209.86,302" fill="#5a8040" opacity="0.55"/>
<polygon points="230.2,288.05 232.4,289.45 214.26,302 212.06,301.3" fill="#22380f" opacity="0.55"/>
<polygon points="234.8,290.18 237,288.78 219.91,302.39 217.71,303.09" fill="#5a8040" opacity="0.5"/>
<polygon points="237,288.78 239.2,290.18 222.11,303.09 219.91,302.39" fill="#22380f" opacity="0.5"/>
<polygon points="242,290.94 244,289.54 227.99,303.51 225.99,304.21" fill="#5a8040" opacity="0.45"/>
<polygon points="244,289.54 246,290.94 229.99,304.21 227.99,303.51" fill="#22380f" opacity="0.45"/>
<polygon points="250,291.8 252,290.4 237.22,304.79 235.22,305.49" fill="#5a8040" opacity="0.4"/>
<polygon points="252,290.4 254,291.8 239.22,305.49 237.22,304.79" fill="#22380f" opacity="0.4"/>
<polygon points="259.8,292.88 262,291.48 248.76,306.4 246.56,307.1" fill="#5a8040" opacity="0.45"/>
<polygon points="262,291.48 264.2,292.88 250.96,307.1 248.76,306.4" fill="#22380f" opacity="0.45"/>
<polygon points="266.8,293.63 269,292.23 256.84,307.52 254.64,308.22" fill="#5a8040" opacity="0.5"/>
<polygon points="269,292.23 271.2,293.63 259.04,308.22 256.84,307.52" fill="#22380f" opacity="0.5"/>
<polygon points="217.5,288.5 219.7,284.9 220.04,288.5" fill="#557a38"/>
<polygon points="219.93,288.5 219.7,284.9 222,288.5" fill="#263f15"/>
<polygon points="222,289 224,285.5 224.38,289" fill="#557a38"/>
<polygon points="224.25,289 224,285.5 226.5,289" fill="#263f15"/>
<polygon points="228,290 230.2,286.8 230.54,290" fill="#557a38"/>
<polygon points="230.43,290 230.2,286.8 232.5,290" fill="#263f15"/>
<polygon points="235,291 237,289.5 237.3,291" fill="#557a38"/>
<polygon points="237.2,291 237,289.5 239,291" fill="#263f15"/>
<polygon points="266.5,293.5 269,291.9 269.38,293.5" fill="#557a38"/>
<polygon points="269.25,293.5 269,291.9 271.5,293.5" fill="#263f15"/>
<polygon points="203.5,301 205.7,293.9 206.19,301" fill="#557a38"/>
<polygon points="206.03,301 205.7,293.9 209,301" fill="#263f15"/>
<polygon points="211.5,302.5 213.9,295.3 214.37,302.5" fill="#557a38"/>
<polygon points="214.21,302.5 213.9,295.3 217,302.5" fill="#263f15"/>
<polygon points="251,307 253,296 255.5,307" fill="#263f15"/>
<polygon points="251.9,302.05 253,296 253.55,302.05" fill="#557a38"/>
<polygon points="257,307.5 259,294.5 259.38,307.5" fill="#557a38"/>
<polygon points="259.25,307.5 259,294.5 261.5,307.5" fill="#263f15"/>
<ellipse cx="204.3" cy="300.72" rx="1.2" ry="0.72" fill="#fff"/>
<ellipse cx="211.5" cy="301.72" rx="1.2" ry="0.72" fill="#fff"/>
<ellipse cx="220" cy="302.9" rx="1.3" ry="0.78" fill="#fff"/>
<ellipse cx="252" cy="307.35" rx="1.3" ry="0.78" fill="#fff"/>
<polyline points="279,311.8 288.2,295.4" fill="none" stroke="#111" stroke-width="1"/>
<polyline points="186.9,299 279,311.8" fill="none" stroke="#1a2a10" stroke-width="0.7"/>
<polyline points="186.9,299.6 279,312.4" fill="none" stroke="#222" stroke-width="1" stroke-dasharray="0.7,0.8"/>
<text transform="translate(188,304.1) rotate(-90)" font-size="5.1" text-anchor="end" fill="#222">TCRBV02</text>
<text transform="translate(195.8,305.19) rotate(-90)" font-size="5.1" text-anchor="end" fill="#222">TCRBV03,TCRBV0...</text>
<text transform="translate(203.6,306.27) rotate(-90)" font-size="5.1" text-anchor="end" fill="#222">TCRBV04,TCRBV0...</text>
<text transform="translate(211.3,307.34) rotate(-90)" font-size="5.1" text-anchor="end" fill="#222">TCRBV05,TCRBV0...</text>
<text transform="translate(219.3,308.45) rotate(-90)" font-size="5.1" text-anchor="end" fill="#222">TCRBV06,TCRBV12</text>
<text transform="translate(227,309.52) rotate(-90)" font-size="5.1" text-anchor="end" fill="#222">TCRBV09</text>
<text transform="translate(235.7,310.73) rotate(-90)" font-size="5.1" text-anchor="end" fill="#222">TCRBV12</text>
<text transform="translate(244.3,311.93) rotate(-90)" font-size="5.1" text-anchor="end" fill="#222">TCRBV15</text>
<text transform="translate(252.6,313.08) rotate(-90)" font-size="5.1" text-anchor="end" fill="#222">TCRBV19</text>
<text transform="translate(261.6,314.33) rotate(-90)" font-size="5.1" text-anchor="end" fill="#222">TCRBV23</text>
<text transform="translate(270.2,315.53) rotate(-90)" font-size="5.1" text-anchor="end" fill="#222">TCRBV27</text>
<text transform="translate(279.5,316.82) rotate(-90)" font-size="5.1" text-anchor="end" fill="#222">TCRBV30</text>
<text x="289" y="303.7" font-size="5" text-anchor="start" fill="#222">TCRBJ02-01</text>
<text x="284.6" y="313" font-size="5" text-anchor="start" fill="#222">TCRBJ01-01</text>
<polyline points="337.8,263.6 362.1,257.1 459.9,262.3" fill="none" stroke="#1a1a1a" stroke-width="0.9"/>
<polyline points="338.7,272.7 362.6,264.4 459.5,271.2" fill="none" stroke="#1a1a1a" stroke-width="0.9"/>
<polyline points="339.2,281.7 362.6,272.2 459,279.5" fill="none" stroke="#1a1a1a" stroke-width="0.9"/>
<polyline points="339.7,290.5 362.6,279.1 458.3,287.9" fill="none" stroke="#1a1a1a" stroke-width="0.9"/>
<text x="334.9" y="265.5" font-size="5.4" text-anchor="end" fill="#222">20%</text>
<text x="335.5" y="274.6" font-size="5.4" text-anchor="end" fill="#222">15%</text>
<text x="336" y="283.6" font-size="5.4" text-anchor="end" fill="#222">10%</text>
<text x="336.6" y="292.4" font-size="5.4" text-anchor="end" fill="#222">5%</text>
<text x="337.1" y="300.7" font-size="5.4" text-anchor="end" fill="#222">0%</text>
<polygon points="340.4,298.8 364.2,285.9 458.4,295.5 452.3,312.4" fill="#3a5825"/>
<polygon points="367,287.39 370,285.99 347.29,298.44 344.29,299.14" fill="#5a8040" opacity="0.35"/>
<polygon points="370,285.99 373,287.39 350.29,299.14 347.29,298.44" fill="#22380f" opacity="0.35"/>
<polygon points="382,288.92 385,287.52 365.11,300.6 362.11,301.3" fill="#5a8040" opacity="0.35"/>
<polygon points="385,287.52 388,288.92 368.11,301.3 365.11,300.6" fill="#22380f" opacity="0.35"/>
<polygon points="393.5,290.04 396,288.64 378.18,302.19 375.68,302.89" fill="#5a8040" opacity="0.3"/>
<polygon points="396,288.64 398.5,290.04 380.68,302.89 378.18,302.19" fill="#22380f" opacity="0.3"/>
<polygon points="407,291.47 410,290.07 394.81,304.21 391.81,304.91" fill="#5a8040" opacity="0.3"/>
<polygon points="410,290.07 413,291.47 397.81,304.91 394.81,304.21" fill="#22380f" opacity="0.3"/>
<polygon points="435,294.32 438,292.92 428.07,308.25 425.07,308.95" fill="#5a8040" opacity="0.3"/>
<polygon points="438,292.92 441,294.32 431.07,308.95 428.07,308.25" fill="#22380f" opacity="0.3"/>
<polygon points="365.5,288 367.3,286 367.56,288" fill="#557a38"/>
<polygon points="367.47,288 367.3,286 369,288" fill="#263f15"/>
<polygon points="381.8,288.5 383.8,285.3 384.13,288.5" fill="#557a38"/>
<polygon points="384.02,288.5 383.8,285.3 386,288.5" fill="#263f15"/>
<polygon points="384.8,289 386.5,287.6 386.8,289" fill="#557a38"/>
<polygon points="386.7,289 386.5,287.6 388.5,289" fill="#263f15"/>
<polygon points="392.5,290.5 394.3,289.2 394.63,290.5" fill="#557a38"/>
<polygon points="394.52,290.5 394.3,289.2 396.5,290.5" fill="#263f15"/>
<polygon points="437.5,295 440,293.4 440.38,295" fill="#557a38"/>
<polygon points="440.25,295 440,293.4 442.5,295" fill="#263f15"/>
<polygon points="366,302 368.5,291 368.88,302" fill="#557a38"/>
<polygon points="368.75,302 368.5,291 371,302" fill="#263f15"/>
<polygon points="406,305 408.4,292.3 408.79,305" fill="#557a38"/>
<polygon points="408.66,305 408.4,292.3 411,305" fill="#263f15"/>
<polygon points="434.5,309 436.6,297.7 436.96,309" fill="#557a38"/>
<polygon points="436.84,309 436.6,297.7 439,309" fill="#263f15"/>
<ellipse cx="369.7" cy="301.66" rx="1.2" ry="0.72" fill="#fff"/>
<ellipse cx="394.3" cy="304.65" rx="1.2" ry="0.72" fill="#fff"/>
<ellipse cx="419" cy="307.65" rx="1.3" ry="0.78" fill="#fff"/>
<ellipse cx="426" cy="308.5" rx="1.2" ry="0.72" fill="#fff"/>
<polyline points="452.3,312.4 458.4,296.1" fill="none" stroke="#111" stroke-width="1"/>
<polyline points="340.4,298.8 452.3,312.4" fill="none" stroke="#1a2a10" stroke-width="0.7"/>
<polyline points="340.4,299.4 452.3,313" fill="none" stroke="#222" stroke-width="1" stroke-dasharray="0.7,0.8"/>
<text transform="translate(342.1,304.29) rotate(-90)" font-size="5.1" text-anchor="end" fill="#222">TCRBV02</text>
<text transform="translate(349.1,305.14) rotate(-90)" font-size="5.1" text-anchor="end" fill="#222">TCRBV02,TCRBV12</text>
<text transform="translate(355.6,305.93) rotate(-90)" font-size="5.1" text-anchor="end" fill="#222">TCRBV03,TCRBV09</text>
<text transform="translate(362.6,306.78) rotate(-90)" font-size="5.1" text-anchor="end" fill="#222">TCRBV04,TCRBV05</text>
<text transform="translate(369.8,307.65) rotate(-90)" font-size="5.1" text-anchor="end" fill="#222">TCRBV06</text>
<text transform="translate(376.8,308.51) rotate(-90)" font-size="5.1" text-anchor="end" fill="#222">TCRBV06,TCRBV...</text>
<text transform="translate(384.2,309.4) rotate(-90)" font-size="5.1" text-anchor="end" fill="#222">TCRBV06,TCRBV...</text>
<text transform="translate(392.4,310.4) rotate(-90)" font-size="5.1" text-anchor="end" fill="#222">TCRBV06,TCRBV27</text>
<text transform="translate(401.2,311.47) rotate(-90)" font-size="5.1" text-anchor="end" fill="#222">TCRBV07,TCRBV...</text>
<text transform="translate(409.3,312.46) rotate(-90)" font-size="5.1" text-anchor="end" fill="#222">TCRBV11</text>
<text transform="translate(417.4,313.44) rotate(-90)" font-size="5.1" text-anchor="end" fill="#222">TCRBV14</text>
<text transform="translate(426.1,314.5) rotate(-90)" font-size="5.1" text-anchor="end" fill="#222">TCRBV18</text>
<text transform="translate(434.6,315.53) rotate(-90)" font-size="5.1" text-anchor="end" fill="#222">TCRBV23</text>
<text transform="translate(443.6,316.62) rotate(-90)" font-size="5.1" text-anchor="end" fill="#222">TCRBV27</text>
<text transform="translate(452.4,317.69) rotate(-90)" font-size="5.1" text-anchor="end" fill="#222">TCRBV30</text>
<text x="460.4" y="304" font-size="5" text-anchor="start" fill="#222">TCRBJ02-01</text>
<text x="456.5" y="314.4" font-size="5" text-anchor="start" fill="#222">TCRBJ01-01</text>
<line x1="30.9" y1="391.5" x2="30.9" y2="459.3" stroke="#333" stroke-width="1.3"/>
<line x1="30.3" y1="458.7" x2="128.5" y2="458.7" stroke="#333" stroke-width="1.3"/>
<line x1="28.4" y1="458.7" x2="30.9" y2="458.7" stroke="#333" stroke-width="1"/>
<text x="24.8" y="460.5" font-size="5" text-anchor="end" fill="#444">0.0</text>
<line x1="28.4" y1="445.84" x2="30.9" y2="445.84" stroke="#333" stroke-width="1"/>
<text x="24.8" y="447.64" font-size="5" text-anchor="end" fill="#444">0.2</text>
<line x1="28.4" y1="432.98" x2="30.9" y2="432.98" stroke="#333" stroke-width="1"/>
<text x="24.8" y="434.78" font-size="5" text-anchor="end" fill="#444">0.4</text>
<line x1="28.4" y1="420.12" x2="30.9" y2="420.12" stroke="#333" stroke-width="1"/>
<text x="24.8" y="421.92" font-size="5" text-anchor="end" fill="#444">0.6</text>
<line x1="28.4" y1="407.26" x2="30.9" y2="407.26" stroke="#333" stroke-width="1"/>
<text x="24.8" y="409.06" font-size="5" text-anchor="end" fill="#444">0.8</text>
<line x1="28.4" y1="394.4" x2="30.9" y2="394.4" stroke="#333" stroke-width="1"/>
<text x="24.8" y="396.2" font-size="5" text-anchor="end" fill="#444">1.0</text>
<line x1="30.9" y1="458.7" x2="30.9" y2="461.1" stroke="#333" stroke-width="1"/>
<text x="30.9" y="469.2" font-size="5" text-anchor="middle" fill="#444">0</text>
<line x1="47.08" y1="458.7" x2="47.08" y2="461.1" stroke="#333" stroke-width="1"/>
<text x="47.08" y="469.2" font-size="5" text-anchor="middle" fill="#444">2</text>
<line x1="63.27" y1="458.7" x2="63.27" y2="461.1" stroke="#333" stroke-width="1"/>
<text x="63.27" y="469.2" font-size="5" text-anchor="middle" fill="#444">4</text>
<line x1="79.45" y1="458.7" x2="79.45" y2="461.1" stroke="#333" stroke-width="1"/>
<text x="79.45" y="469.2" font-size="5" text-anchor="middle" fill="#444">6</text>
<line x1="95.63" y1="458.7" x2="95.63" y2="461.1" stroke="#333" stroke-width="1"/>
<text x="95.63" y="469.2" font-size="5" text-anchor="middle" fill="#444">8</text>
<line x1="111.82" y1="458.7" x2="111.82" y2="461.1" stroke="#333" stroke-width="1"/>
<text x="111.82" y="469.2" font-size="5" text-anchor="middle" fill="#444">10</text>
<line x1="128" y1="458.7" x2="128" y2="461.1" stroke="#333" stroke-width="1"/>
<text x="128" y="469.2" font-size="5" text-anchor="middle" fill="#444">12</text>
<line x1="38.99" y1="458.7" x2="38.99" y2="460.2" stroke="#333" stroke-width="0.8"/>
<line x1="55.17" y1="458.7" x2="55.17" y2="460.2" stroke="#333" stroke-width="0.8"/>
<line x1="71.36" y1="458.7" x2="71.36" y2="460.2" stroke="#333" stroke-width="0.8"/>
<line x1="87.54" y1="458.7" x2="87.54" y2="460.2" stroke="#333" stroke-width="0.8"/>
<line x1="103.72" y1="458.7" x2="103.72" y2="460.2" stroke="#333" stroke-width="0.8"/>
<line x1="119.91" y1="458.7" x2="119.91" y2="460.2" stroke="#333" stroke-width="0.8"/>
<polyline points="30.9,458.7 38.99,418.83 79.45,414.33 103.72,413.05" fill="none" stroke="#7d52a0" stroke-width="1"/>
<circle cx="38.99" cy="418.83" r="1.3" fill="#4a1a7a"/>
<circle cx="79.45" cy="414.33" r="1.3" fill="#4a1a7a"/>
<circle cx="103.72" cy="413.05" r="1.3" fill="#4a1a7a"/>
<polyline points="30.9,458.7 38.99,427.84 55.17,405.97 79.45,445.2 128,443.27" fill="none" stroke="#6cc04a" stroke-width="1"/>
<polygon points="37.59,426.84 40.39,426.84 38.99,429.14" fill="#5aaa3a"/>
<polygon points="53.77,404.97 56.57,404.97 55.17,407.27" fill="#5aaa3a"/>
<polygon points="78.05,444.2 80.85,444.2 79.45,446.5" fill="#5aaa3a"/>
<polygon points="126.6,442.27 129.4,442.27 128,444.57" fill="#5aaa3a"/>
<polyline points="30.9,458.7 38.99,442.62 79.45,438.77 103.72,440.37 128,439.41" fill="none" stroke="#c8183c" stroke-width="1"/>
<circle cx="38.99" cy="442.62" r="1.3" fill="#b0102c"/>
<circle cx="79.45" cy="438.77" r="1.3" fill="#b0102c"/>
<circle cx="103.72" cy="440.37" r="1.3" fill="#b0102c"/>
<circle cx="128" cy="439.41" r="1.3" fill="#b0102c"/>
<polyline points="30.9,458.7 38.99,446.48" fill="none" stroke="#f0a030" stroke-width="1"/>
<polygon points="37.59,445.48 40.39,445.48 38.99,447.78" fill="#e08a10"/>
<polyline points="30.9,458.7 38.99,449.38 55.17,449.38" fill="none" stroke="#2f55a8" stroke-width="1"/>
<circle cx="38.99" cy="449.38" r="1.3" fill="#1a3a8a"/>
<circle cx="55.17" cy="449.38" r="1.3" fill="#1a3a8a"/>
<rect x="29.5" y="457.3" width="2.8" height="2.8" fill="#b0102c"/>
<text transform="translate(13.6,423.6) rotate(-90) scale(0.64,1)" font-size="6.8" text-anchor="middle" font-weight="bold" fill="#222">Unique T cell clones, %</text>
<text transform="translate(81,479.2) scale(0.65,1)" font-size="7" text-anchor="middle" font-weight="bold" fill="#222">Months</text>
<line x1="133.3" y1="394.2" x2="140.8" y2="394.2" stroke="#c8183c" stroke-width="1"/>
<circle cx="137.1" cy="394.2" r="1.2" fill="#c8183c"/>
<text x="143" y="395.9" font-size="4.6" text-anchor="start" fill="#555">P3555</text>
<line x1="133.3" y1="403.1" x2="140.8" y2="403.1" stroke="#2f55a8" stroke-width="1"/>
<circle cx="137.1" cy="403.1" r="1.2" fill="#2f55a8"/>
<text x="143" y="404.8" font-size="4.6" text-anchor="start" fill="#555">P3317</text>
<line x1="133.3" y1="412.1" x2="140.8" y2="412.1" stroke="#6cc04a" stroke-width="1"/>
<polygon points="135.8,411.2 138.4,411.2 137.1,413.3" fill="#6cc04a"/>
<text x="143" y="413.8" font-size="4.6" text-anchor="start" fill="#555">P3275</text>
<line x1="133.3" y1="420.5" x2="140.8" y2="420.5" stroke="#7d52a0" stroke-width="1"/>
<circle cx="137.1" cy="420.5" r="1.2" fill="#7d52a0"/>
<text x="143" y="422.2" font-size="4.6" text-anchor="start" fill="#555">P0020</text>
<line x1="133.3" y1="429.2" x2="140.8" y2="429.2" stroke="#f0a030" stroke-width="1"/>
<polygon points="135.8,428.3 138.4,428.3 137.1,430.4" fill="#f0a030"/>
<text x="143" y="430.9" font-size="4.6" text-anchor="start" fill="#555">P3457</text>
<line x1="195.3" y1="385.3" x2="195.3" y2="459.1" stroke="#111" stroke-width="1.1"/>
<line x1="194.8" y1="458.6" x2="302" y2="458.6" stroke="#111" stroke-width="1.1"/>
<line x1="192.4" y1="458.6" x2="195.3" y2="458.6" stroke="#111" stroke-width="1"/>
<text x="189.4" y="460.4" font-size="5" text-anchor="end" fill="#555">0.0</text>
<line x1="192.4" y1="440.95" x2="195.3" y2="440.95" stroke="#111" stroke-width="1"/>
<text x="189.4" y="442.75" font-size="5" text-anchor="end" fill="#555">0.2</text>
<line x1="192.4" y1="423.3" x2="195.3" y2="423.3" stroke="#111" stroke-width="1"/>
<text x="189.4" y="425.1" font-size="5" text-anchor="end" fill="#555">0.4</text>
<line x1="192.4" y1="405.65" x2="195.3" y2="405.65" stroke="#111" stroke-width="1"/>
<text x="189.4" y="407.45" font-size="5" text-anchor="end" fill="#555">0.6</text>
<line x1="192.4" y1="388" x2="195.3" y2="388" stroke="#111" stroke-width="1"/>
<text x="189.4" y="389.8" font-size="5" text-anchor="end" fill="#555">0.8</text>
<line x1="225.8" y1="458.6" x2="225.8" y2="460.6" stroke="#111" stroke-width="1"/>
<line x1="271.3" y1="458.6" x2="271.3" y2="460.6" stroke="#111" stroke-width="1"/>
<text x="225.8" y="469.2" font-size="5" text-anchor="middle" fill="#333">Reactivation</text>
<text x="271" y="469.2" font-size="5" text-anchor="middle" fill="#333">No reactivation</text>
<line x1="225.8" y1="403.88" x2="225.8" y2="441.83" stroke="#222" stroke-width="0.9"/>
<line x1="218" y1="403.88" x2="233.2" y2="403.88" stroke="#222" stroke-width="1"/>
<line x1="218" y1="441.83" x2="233.2" y2="441.83" stroke="#222" stroke-width="1"/>
<line x1="210.6" y1="422.86" x2="240.8" y2="422.86" stroke="#222" stroke-width="1.1"/>
<circle cx="225.8" cy="403.88" r="1.3" fill="#c8183c"/>
<circle cx="225.8" cy="441.83" r="1.3" fill="#c8183c"/>
<line x1="271.3" y1="423.74" x2="271.3" y2="441.83" stroke="#222" stroke-width="0.9"/>
<line x1="263.9" y1="423.74" x2="278.7" y2="423.74" stroke="#222" stroke-width="1"/>
<line x1="263.9" y1="441.83" x2="278.7" y2="441.83" stroke="#222" stroke-width="1"/>
<line x1="256" y1="433.01" x2="286.3" y2="433.01" stroke="#222" stroke-width="1.1"/>
<rect x="270.1" y="414.16" width="2.4" height="2.4" fill="#1a3a8a"/>
<rect x="270.1" y="435.78" width="2.4" height="2.4" fill="#1a3a8a"/>
<rect x="270.1" y="445.05" width="2.4" height="2.4" fill="#1a3a8a"/>
<polyline points="226.4,389 226.4,385.2 272.3,385.2 272.3,389" fill="none" stroke="#222" stroke-width="0.9"/>
<text x="249.2" y="381.9" font-size="5" text-anchor="middle" fill="#333">p = 0.62</text>
<text transform="translate(177.8,423) rotate(-90) scale(0.64,1)" font-size="6.8" text-anchor="middle" font-weight="bold" fill="#222">Unique T cell clones, %</text>
<rect x="0.5" y="0.5" width="519" height="487" fill="none" stroke="#000" stroke-width="1.2"/>
</svg></body></html>
